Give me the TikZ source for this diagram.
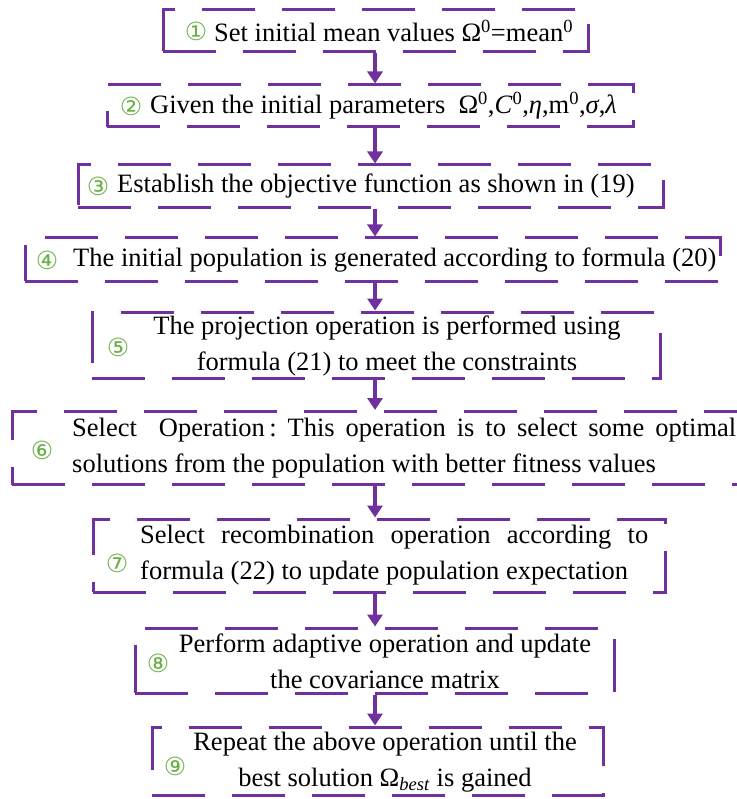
\documentclass[tikz,border=0pt]{standalone}
\usepackage{fontspec}
\setmainfont{Liberation Serif}
\newfontfamily\circfont{DejaVu Sans}
\usetikzlibrary{arrows.meta}

\tikzset{
  caja/.style={draw=morado, line width=3pt, dash pattern=on 53pt off 27pt, inner sep=0pt},
  texto/.style={inner sep=0pt, font=\fontsize{26.5}{36}\selectfont, align=center},
  num/.style={inner sep=0pt, text=verde, font=\circfont\fontsize{25}{25}\selectfont},
  flecha/.style={morado, line width=3.5pt, -{Triangle[width=15pt,length=12pt]}}
}

\begin{document}
\begin{tikzpicture}[x=1pt,y=-1pt]
        %colores
        \definecolor{morado}{RGB}{112,48,160}
        \definecolor{verde}{RGB}{106,176,70}

        \useasboundingbox (0,0) rectangle (736,799);
        \coordinate (eje) at (375,0);

        % cajas
        \node[caja, minimum width=425pt, minimum height=42pt] (c1) at (375.5,31) {};
        \node[caja, minimum width=526pt, minimum height=42pt] (c2) at (370,106) {};
        \node[caja, minimum width=585pt, minimum height=43pt] (c3) at (370.5,186.5) {};
        \node[caja, minimum width=695pt, minimum height=43pt] (c4) at (372.5,259.5) {};
        \node[caja, minimum width=568pt, minimum height=66pt] (c5) at (376,345) {};
        \node[caja, minimum width=736pt, minimum height=73pt] (c6) at (380,448) {};
        \node[caja, minimum width=572pt, minimum height=73pt] (c7) at (379,555.5) {};
        \node[caja, minimum width=479pt, minimum height=65pt] (c8) at (374.5,660.5) {};
        \node[caja, minimum width=451pt, minimum height=68pt] (c9) at (377.5,761) {};

        % numeros
        \node[num] (n1) at (196,31) {①};
        \node[num] (n2) at (131,106) {②};
        \node[num] (n3) at (98,186) {③};
        \node[num] (n4) at (47,260) {④};
        \node[num] (n5) at (118,347) {⑤};
        \node[num] (n6) at (42,450) {⑥};
        \node[num] (n7) at (117,563) {⑦};
        \node[num] (n8) at (158,663) {⑧};
        \node[num] (n9) at (175,766) {⑨};

        % textos
        \node[texto, anchor=west] (t1) at (214,31) {Set initial mean values Ω\textsuperscript{0}=mean\textsuperscript{0}};
        \node[texto, anchor=west] (t2) at (150,106) {Given the initial parameters\ \ Ω\textsuperscript{0},\textit{C}\textsuperscript{0},\textit{η},m\textsuperscript{0},\textit{σ},\textit{λ}};
        \node[texto, anchor=west] (t3) at (117,186) {Establish the objective function as shown in (19)};
        \node[texto, anchor=west] (t4) at (73,260) {The initial population is generated according to formula (20)};
        \node[texto] (t5) at (387,346) {The projection operation is performed using\\formula (21) to meet the constraints};
        \node[texto, anchor=west, align=left] (t6) at (72,448)
            {\makebox[664pt][s]{Select\ \ Operation\,:\ This operation is to select some optimal}\\solutions from the population with better fitness values};
        \node[texto, anchor=west, align=left] (t7) at (140,555)
            {\makebox[508pt][s]{Select recombination operation according to}\\formula (22) to update population expectation};
        \node[texto] (t8) at (385,661) {Perform adaptive operation and update\\the covariance matrix};
        \node[texto] (t9) at (385,762) {Repeat the above operation until the\\best solution Ω\textsubscript{\textit{best}} is gained};

        % flechas
        \foreach \a/\b in {c1/c2, c2/c3, c3/c4, c4/c5, c5/c6, c6/c7, c7/c8, c8/c9}
            \draw[flecha] (\a.south -| eje) -- (\b.north -| eje);
\end{tikzpicture}
\end{document}
